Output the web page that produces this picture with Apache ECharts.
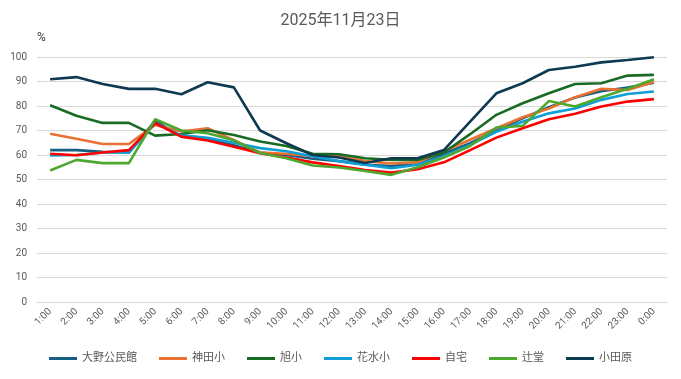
<!DOCTYPE html>
<html>
<head>
<meta charset="utf-8">
<script src="https://cdn.jsdelivr.net/npm/echarts@6/dist/echarts.min.js"></script>
<style>html,body{margin:0;padding:0;background:#fff;}#c{width:681px;height:379px;}</style>
</head>
<body>
<div id="c"></div>
<script>
const categories = ['1:00','2:00','3:00','4:00','5:00','6:00','7:00','8:00','9:00','10:00','11:00','12:00','13:00','14:00','15:00','16:00','17:00','18:00','19:00','20:00','21:00','22:00','23:00','0:00'];
const yTicks = [0,10,20,30,40,50,60,70,80,90,100];
const seriesNames = ['大野公民館','神田小','旭小','花水小','自宅','辻堂','小田原'];
const ohno   = [62,62,61.3,61,73.9,67.5,66.5,64,61,60,58.5,57.5,56,55.5,56.5,60.5,64.8,70,75,79.5,83.5,86,87.5,89.5];
const kanda  = [68.7,66.6,64.5,64.5,72.3,69.6,70.9,66,61,60.5,59.5,59.5,57.5,56.5,57,61.5,66.2,70.9,75.4,79,83.6,87,86.5,89.8];
const asahi  = [80.3,76,73.1,73.1,67.9,68.6,70.1,68.2,65.5,63.7,60.5,60.3,58.7,58,58,61,68.5,76.4,81.1,85.2,89,89.3,92.4,92.7];
const hanamizu = [59.8,60,61,61,73,68,67,65,62.8,61.5,59.5,57.5,56,54.6,56,59.5,64.1,69.5,73.6,77,79,82.5,84.9,85.9];
const jitaku = [60.5,59.9,61,62,73,67.5,65.9,63.4,60.7,59,57,55.5,53.9,52.8,54.2,57,62,67.1,70.9,74.6,76.8,79.8,81.8,82.8];
const tsujido = [53.7,58,56.7,56.7,74.6,70,68.9,66,60.8,58.7,55.7,54.9,53.5,51.9,55,59,63.7,71.2,71.9,82,79.8,83.6,87,90.9];
const odawara = [90.9,91.8,89,87,87,84.8,89.7,87.6,70,64.8,60,59,56.7,58.7,58.7,62,73.6,85.2,89.3,94.7,96,97.8,98.8,99.9];
const colors = ['#156082','#E97132','#196B24','#0F9ED5','#FF0000','#4EA72E','#0D3A50'];
const dataList = [ohno,kanda,asahi,hanamizu,jitaku,tsujido,odawara];

const chart = echarts.init(document.getElementById('c'), null, {renderer:'canvas'});
const font = 'Roboto, "Noto Sans CJK JP", sans-serif';
chart.setOption({
  animation:false,
  backgroundColor:'#fff',
  title:{text:'2025年11月23日',left:'center',top:8,textStyle:{fontSize:16,fontWeight:'normal',color:'#595959',fontFamily:font}},
  graphic:[{type:'text',left:37,top:32,style:{text:'%',fontSize:12,fill:'#404040',fontFamily:font}}],
  grid:{left:37,right:14,top:57,bottom:77,containLabel:false},
  legend:{bottom:10,left:'center',itemWidth:28,itemHeight:3,itemGap:22,icon:'rect',
    textStyle:{fontSize:11,color:'#595959',fontFamily:font},data:seriesNames},
  xAxis:{type:'category',data:categories,boundaryGap:true,
    axisLine:{lineStyle:{color:'#d9d9d9'}},axisTick:{show:false},
    axisLabel:{rotate:45,fontSize:10,color:'#595959',fontFamily:font,interval:0,margin:8}},
  yAxis:{type:'value',min:yTicks[0],max:yTicks[yTicks.length-1],interval:10,
    axisLine:{show:false},axisTick:{show:false},
    splitLine:{lineStyle:{color:'#d9d9d9'}},
    axisLabel:{fontSize:10,color:'#595959',fontFamily:font,margin:10}},
  series:seriesNames.map((n,i)=>({name:n,type:'line',data:dataList[i],showSymbol:false,symbol:'none',
    color:colors[i],lineStyle:{width:2.6,color:colors[i]}}))
});
</script>
</body>
</html>
